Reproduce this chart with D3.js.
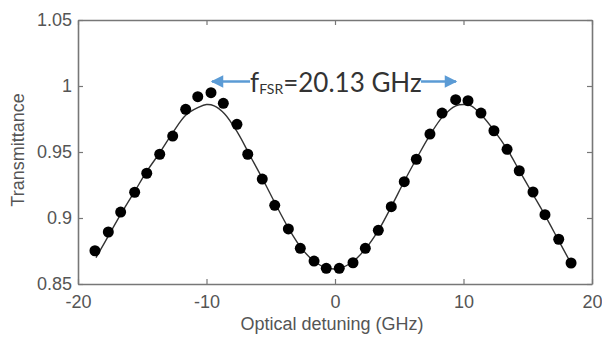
<!DOCTYPE html>
<html>
<head>
<meta charset="utf-8">
<script src="https://cdn.jsdelivr.net/npm/d3@7"></script>
<style>
  body { margin: 0; background: #fff; }
  svg { display: block; }
</style>
</head>
<body>
<div id="chart"></div>
<script>
// measured points
var detuning = [-18.68, -17.64, -16.68, -15.59, -14.65, -13.64, -12.63, -11.62, -10.68, -9.65,
    -8.69, -7.63, -6.79, -5.66, -4.69, -3.63, -2.70, -1.63, -0.68, 0.33,
    1.40, 2.36, 3.37, 4.38, 5.39, 6.33, 7.39, 8.33, 9.39, 10.35,
    11.36, 12.37, 13.39, 14.34, 15.41, 16.34, 17.41, 18.37];
var transmittance = [0.8752, 0.8894, 0.9045, 0.9195, 0.9339, 0.9483, 0.9621, 0.9823, 0.9919, 0.9949,
    0.9869, 0.9710, 0.9483, 0.9295, 0.9096, 0.8917, 0.8770, 0.8674, 0.8619, 0.8619,
    0.8661, 0.8770, 0.8907, 0.9086, 0.9275, 0.9445, 0.9636, 0.9795, 0.9896, 0.9889,
    0.9795, 0.9661, 0.9520, 0.9358, 0.9197, 0.9025, 0.8839, 0.8659];

// fitted curve
var fitX = [-18.6, -17.6, -16.6, -15.6, -14.6, -13.6, -12.6, -11.6, -10.6, -10.0,
    -9.4, -8.6, -7.6, -6.6, -5.6, -4.6, -3.6, -2.6, -1.6, -0.6,
    0.4, 1.4, 2.4, 3.4, 4.4, 5.4, 6.4, 7.4, 8.4, 9.4,
    10.0, 10.6, 11.4, 12.4, 13.4, 14.4, 15.4, 16.4, 17.4, 18.4];
var fitY = [0.870, 0.887, 0.904, 0.920, 0.936, 0.950, 0.965, 0.978, 0.984, 0.986,
    0.985, 0.979, 0.965, 0.947, 0.929, 0.910, 0.892, 0.877, 0.867, 0.862,
    0.862, 0.867, 0.877, 0.891, 0.909, 0.928, 0.946, 0.963, 0.977, 0.985,
    0.986, 0.985, 0.978, 0.966, 0.952, 0.935, 0.918, 0.901, 0.883, 0.865];

var xTicks = [-20, -10, 0, 10, 20];
var yTicks = [0.85, 0.9, 0.95, 1, 1.05];

var W = 602, H = 337;
var margin = {top: 20, right: 10, bottom: 53, left: 78};

var svg = d3.select('#chart').append('svg')
    .attr('width', W)
    .attr('height', H);

var x = d3.scaleLinear().domain([-20, 20]).range([margin.left, W - margin.right]);
var y = d3.scaleLinear().domain([0.85, 1.05]).range([H - margin.bottom, margin.top]);

var axisColor = '#777';
var labelColor = '#555';
var font = '"Liberation Sans", Arial, sans-serif';

function styleAxis(g) {
    g.select('.domain').attr('stroke', axisColor).attr('stroke-width', 1.6);
    g.selectAll('.tick line').attr('stroke', axisColor).attr('stroke-width', 1.2);
    g.selectAll('.tick text')
        .attr('fill', labelColor)
        .style('font-family', font)
        .style('font-size', '18px');
}

// plain hyphen for negatives, like the original
function plain(d) { return String(+d.toFixed(2)); }

svg.append('g')
    .attr('transform', 'translate(0,' + y(0.85) + ')')
    .call(d3.axisBottom(x).tickValues(xTicks).tickSize(-5).tickSizeOuter(0).tickPadding(11)
        .tickFormat(plain))
    .call(styleAxis);

svg.append('g')
    .attr('transform', 'translate(0,' + y(1.05) + ')')
    .call(d3.axisTop(x).tickValues(xTicks).tickSize(-5).tickSizeOuter(0).tickFormat(''))
    .call(styleAxis);

svg.append('g')
    .attr('transform', 'translate(' + x(-20) + ',0)')
    .call(d3.axisLeft(y).tickValues(yTicks).tickSize(-5).tickSizeOuter(0).tickPadding(6)
        .tickFormat(plain))
    .call(styleAxis);

svg.append('g')
    .attr('transform', 'translate(' + x(20) + ',0)')
    .call(d3.axisRight(y).tickValues(yTicks).tickSize(-5).tickSizeOuter(0).tickFormat(''))
    .call(styleAxis);

// fit line
var line = d3.line()
    .x(function (d, i) { return x(fitX[i]); })
    .y(function (d) { return y(d); })
    .curve(d3.curveCatmullRom);

svg.append('path')
    .datum(fitY)
    .attr('d', line)
    .attr('fill', 'none')
    .attr('stroke', '#333')
    .attr('stroke-width', 1.4);

// data points
svg.append('g')
    .selectAll('circle')
    .data(transmittance)
    .enter()
    .append('circle')
    .attr('cx', function (d, i) { return x(detuning[i]); })
    .attr('cy', function (d) { return y(d); })
    .attr('r', 5.5)
    .attr('fill', '#000');

// axis titles
svg.append('text')
    .attr('x', 332)
    .attr('y', 330)
    .attr('text-anchor', 'middle')
    .attr('fill', labelColor)
    .style('font-family', font)
    .style('font-size', '18px')
    .text('Optical detuning (GHz)');

svg.append('text')
    .attr('transform', 'translate(24,150) rotate(-90)')
    .attr('text-anchor', 'middle')
    .attr('fill', labelColor)
    .style('font-family', font)
    .style('font-size', '18px')
    .text('Transmittance');

// FSR annotation
var blue = '#5B9BD5';
var defs = svg.append('defs');
defs.append('marker')
    .attr('id', 'head')
    .attr('viewBox', '0 0 10 10')
    .attr('refX', 9)
    .attr('refY', 5)
    .attr('markerWidth', 6)
    .attr('markerHeight', 5)
    .attr('markerUnits', 'strokeWidth')
    .attr('orient', 'auto')
    .append('path')
    .attr('d', 'M0,0 L10,5 L0,10 z')
    .attr('fill', blue);

svg.append('line')
    .attr('x1', 250).attr('y1', 81.5)
    .attr('x2', 212).attr('y2', 81.5)
    .attr('stroke', blue)
    .attr('stroke-width', 2.5)
    .attr('marker-end', 'url(#head)');

svg.append('line')
    .attr('x1', 421).attr('y1', 81.5)
    .attr('x2', 456).attr('y2', 81.5)
    .attr('stroke', blue)
    .attr('stroke-width', 2.5)
    .attr('marker-end', 'url(#head)');

var ann = svg.append('text')
    .attr('x', 250)
    .attr('y', 92)
    .attr('fill', '#333')
    .style('font-family', 'Lato, "Open Sans", sans-serif')
    .style('font-size', '26px');
ann.append('tspan').text('f');
ann.append('tspan')
    .attr('dy', 2)
    .style('font-size', '14px')
    .text('FSR');
ann.append('tspan')
    .attr('dy', -2)
    .text('=20.13 GHz');
</script>
</body>
</html>
